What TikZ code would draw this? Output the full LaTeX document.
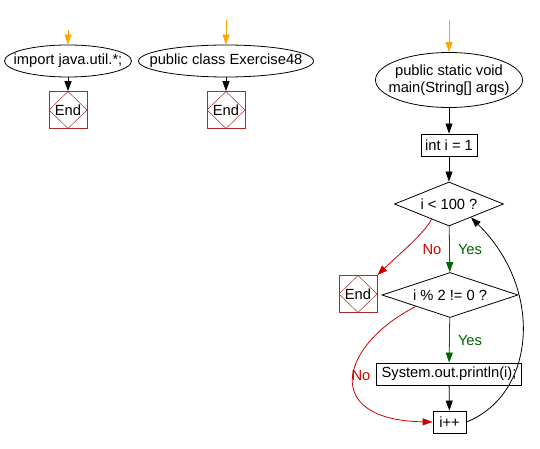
\documentclass[tikz,border=0pt]{standalone}
\usepackage{fontspec}
\setmainfont{Liberation Sans}
\usetikzlibrary{shapes.geometric, positioning, calc, arrows.meta}

\definecolor{endred}{RGB}{165,42,42}
\definecolor{nored}{RGB}{204,0,0}
\definecolor{yesgreen}{RGB}{0,100,0}
\definecolor{startorange}{RGB}{255,165,0}

\tikzset{
  flow/.style={line width=0.8pt, -{Triangle[length=10pt,width=7pt]}},
  startell/.style={ellipse, draw, line width=0.8pt, inner xsep=-20pt, inner ysep=0pt, minimum height=32pt},
  stepbox/.style={rectangle, draw, line width=0.8pt, inner sep=0pt, minimum height=22pt},
  cond/.style={diamond, draw, line width=0.8pt, inner sep=0pt, aspect=2.5},
  endbox/.style={rectangle, draw=endred, line width=0.8pt, inner sep=0pt,
    minimum width=38pt, minimum height=37pt,
    path picture={\draw[endred, line width=0.5pt] (path picture bounding box.north)
      -- (path picture bounding box.east) -- (path picture bounding box.south)
      -- (path picture bounding box.west) -- cycle;}},
  yeslbl/.style={text=yesgreen},
  nolbl/.style={text=nored}
}

\begin{document}
\begin{tikzpicture}[x=1pt, y=-1pt, font=\fontsize{14.7}{17}\selectfont]

\useasboundingbox (0,0) rectangle (540,449);

%//the two small flows on the left
\foreach \x/\nm/\w/\txt/\top in {68/imp/127/import java.util.*;/30, 226/cls/175/public class Exercise48/20}
{
  \coordinate (\nm in) at (\x,\top);
  \node[startell, minimum width=\w pt] (\nm) at (\x,61) {\txt};
  \node[endbox] (\nm end) at (\x,110) {End};
  \draw[flow, startorange] (\nm in) -- (\nm);
  \draw[flow] (\nm) -- (\nm end);
}

%//main method
\coordinate (mainin) at (449,20);
\node[startell, align=center, minimum width=147pt, minimum height=55pt] (main) at (449,80) {public static void\\main(String[] args)};
\node[stepbox, minimum width=56pt] (init) at (449,145) {int i = 1};
\node[cond, minimum width=109pt, minimum height=44pt] (lt) at (449,204) {i < 100 ?};
\node[endbox] (ltend) at (358,294) {End};
\node[cond, aspect=3, minimum width=136pt, minimum height=45pt] (odd) at (450,295) {i \% 2 != 0 ?};
\node[stepbox, minimum width=145pt] (print) at (449,374) {System.out.println(i);};
\node[stepbox, minimum width=33pt] (inc) at (449.5,422) {i++};

\draw[flow, startorange] (mainin) -- (main);
\draw[flow] (main) -- (init);
\draw[flow] (init) -- (lt);
\draw[flow, yesgreen] (lt) -- (odd);
\draw[flow, yesgreen] (odd) -- (print);
\draw[flow] (print) -- (inc);

%//no branches
\draw[flow, nored] ($(lt.west)!0.68!(lt.south)$) .. controls (426,232) and (395,258) .. (ltend.north east);
\draw[flow, nored] (odd.south west) .. controls (340,345) and (320,420) .. (inc.west);

%//loop back
\draw[flow] (inc.east) .. controls (535,395) and (545,290) .. ($(lt.south)!0.4!(lt.east)$);

\node[yeslbl] (ltyes) at (470,250) {Yes};
\node[nolbl] (ltno) at (432,250) {No};
\node[yeslbl] (oddyes) at (470,341) {Yes};
\node[nolbl] (oddno) at (361,376) {No};

\end{tikzpicture}
\end{document}
